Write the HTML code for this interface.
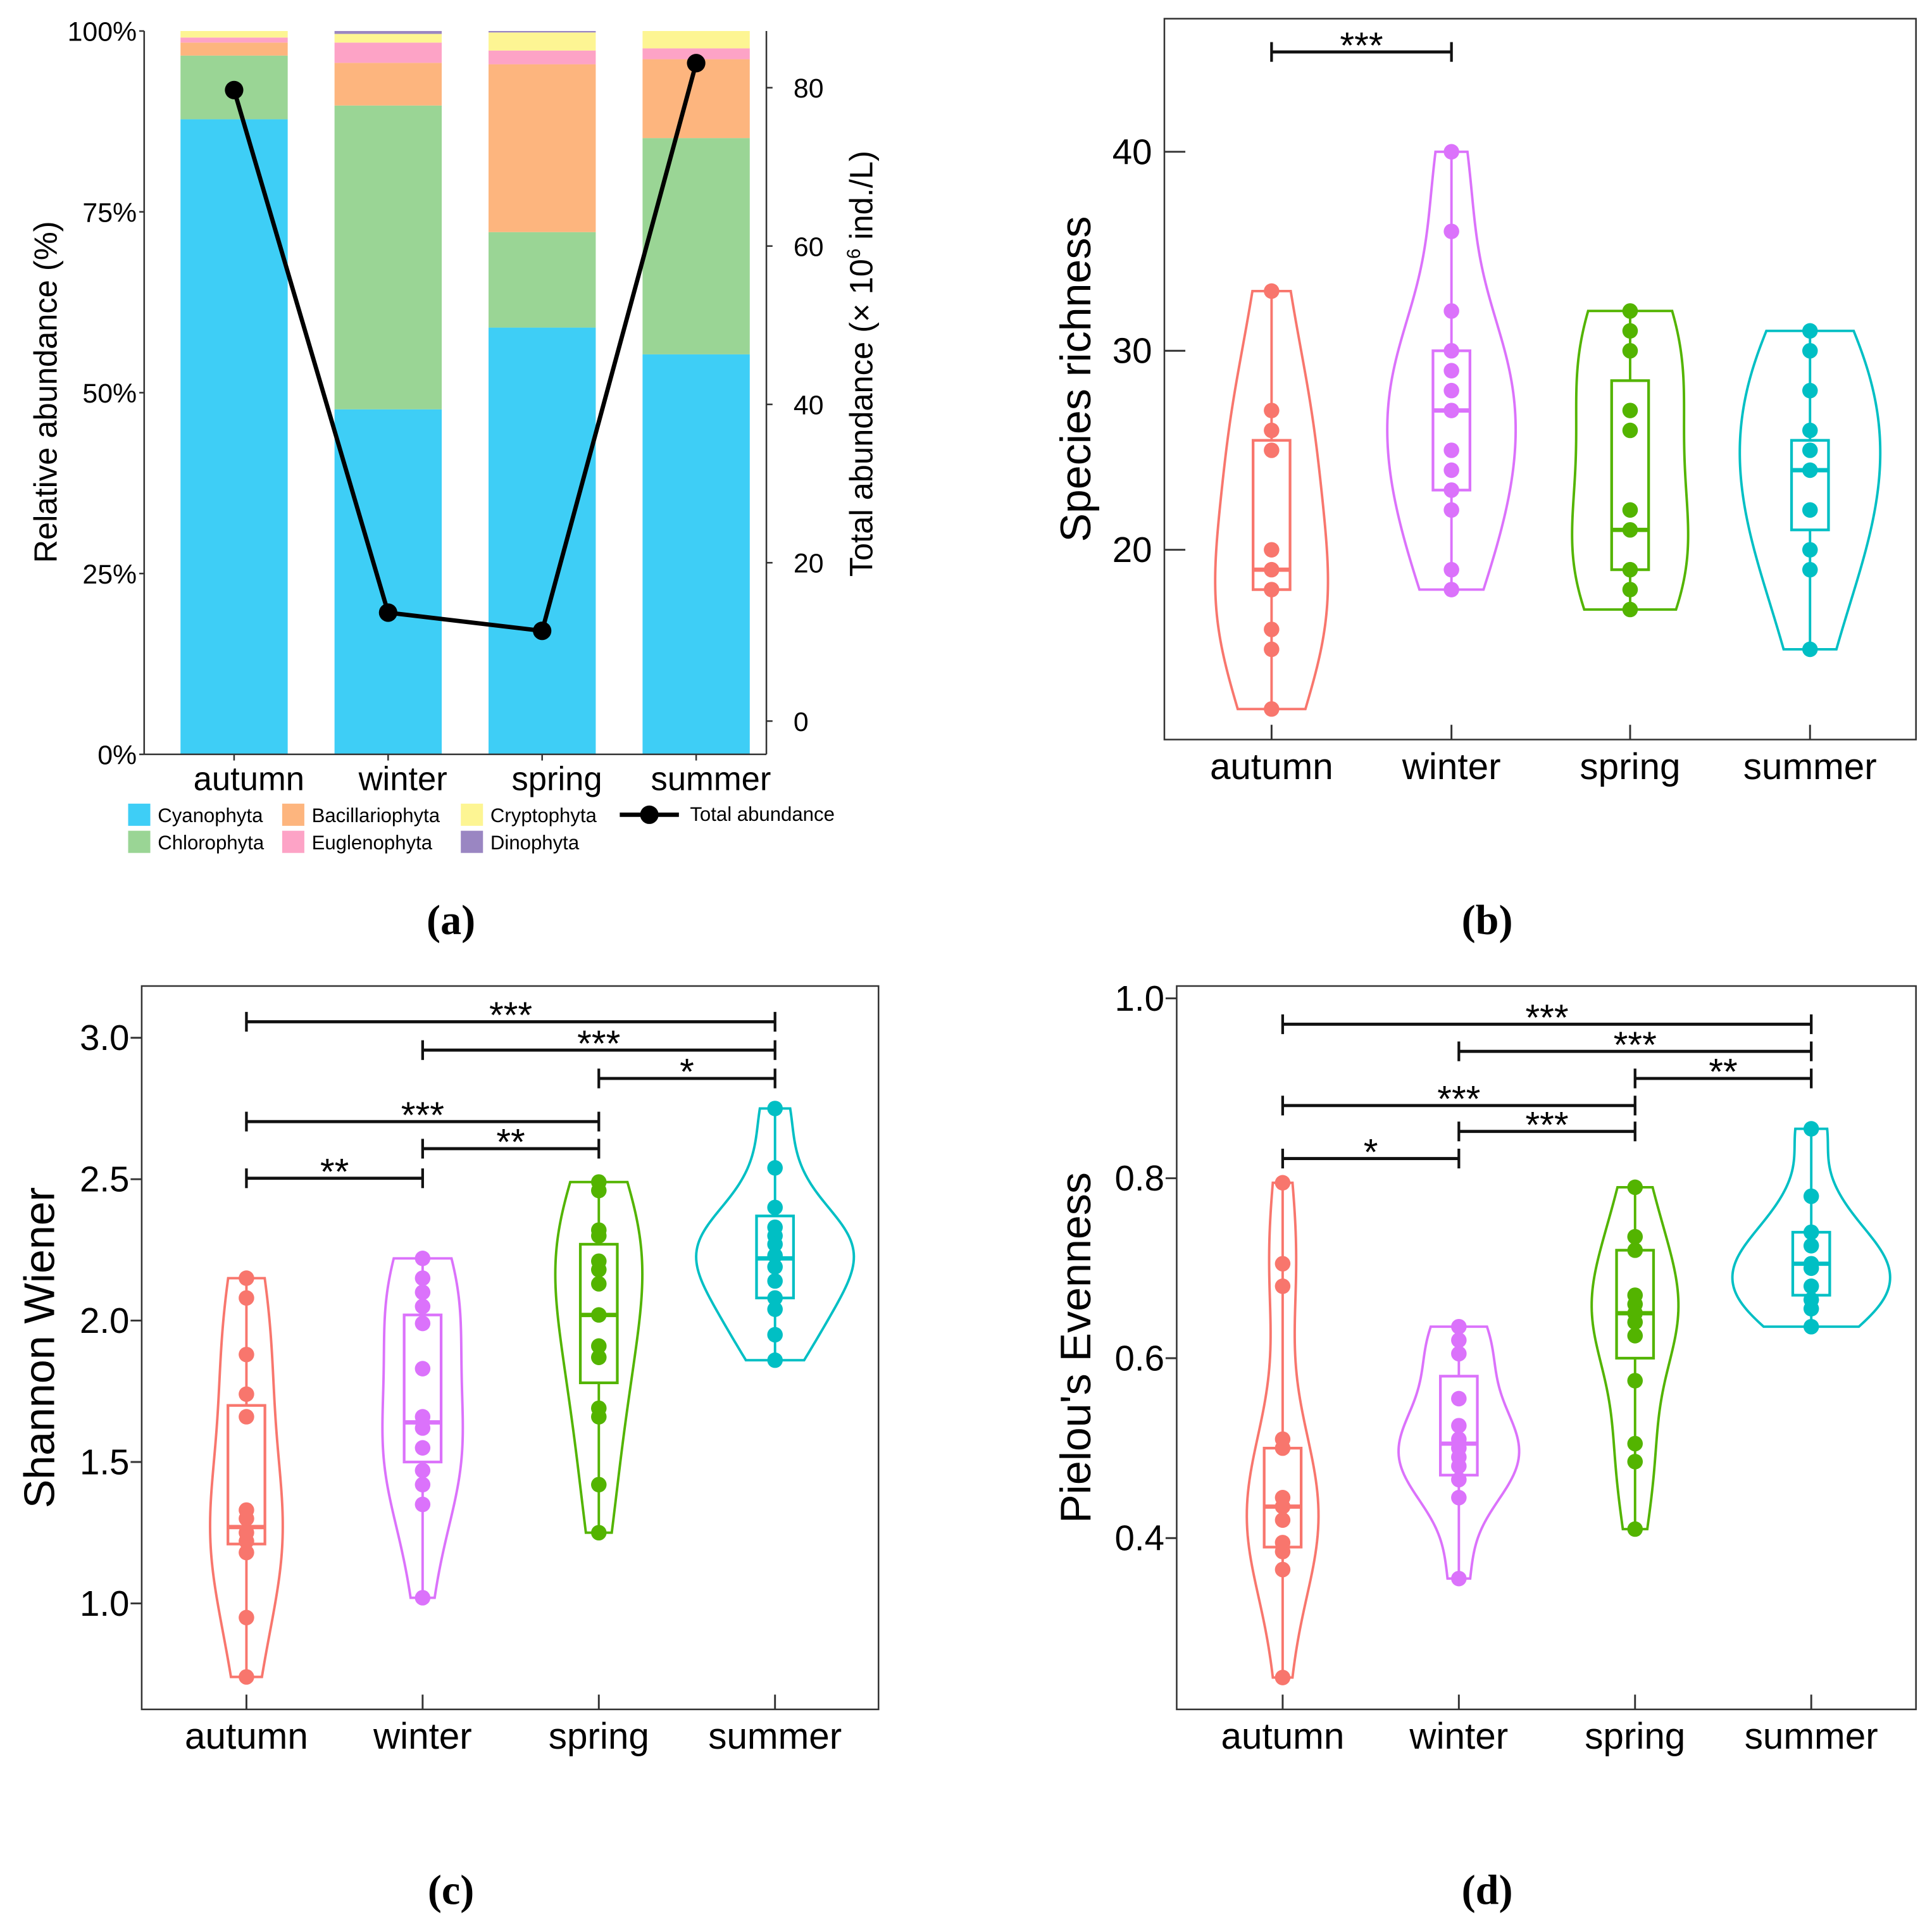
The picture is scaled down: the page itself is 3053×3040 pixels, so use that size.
<!DOCTYPE html>
<html><head><meta charset="utf-8"><style>
html,body{margin:0;padding:0;background:#fff;}
svg{display:block;font-family:"Liberation Sans",Arial,sans-serif;}
</style></head><body>
<svg id="fig" width="3053" height="3040" viewBox="0 0 1568 1561" xmlns="http://www.w3.org/2000/svg">
<rect width="1568" height="1561" fill="#fff"/>
<g id="pa"></g>
<g id="pb"></g>
<g id="pc"></g>
<g id="pd"></g>
</svg>
<script>
const seasons=["autumn","winter","spring","summer"];
const phyla=["Cyanophyta","Chlorophyta","Bacillariophyta","Euglenophyta","Cryptophyta","Dinophyta"];
const phylaColors=["#3ecef6","#9ad595","#fdb57e","#fda3c6","#fdf593","#9a86c2"];
const relCyano=[87.8,47.7,59.0,55.3];
const relChloro=[8.8,42.0,13.2,29.9];
const relBacil=[1.8,5.9,23.2,10.9];
const relEugl=[0.7,2.8,1.9,1.5];
const relCrypt=[0.9,1.2,2.5,2.4];
const relDino=[0.0,0.4,0.2,0.0];
const totalAbundance=[79.7,13.7,11.4,83.1];
const pctTicks=[0,25,50,75,100];
const abundTicks=[0,20,40,60,80];

const richnessPoints=[[33,27,26,25,20,19,18,16,15,12],[40,36,32,30,29,28,27,25,24,23,22,19,18],[32,31,30,27,26,22,21,19,18,17],[31,30,28,26,25,24,22,20,19,15]];
const richnessBoxes=[[18,19,25.5],[23,27,30],[19,21,28.5],[21,24,25.5]];
const richnessTicks=[20,30,40];

const shannonPoints=[[2.15,2.08,1.88,1.74,1.66,1.33,1.30,1.25,1.22,1.18,0.95,0.74],[2.22,2.15,2.10,2.05,1.99,1.83,1.66,1.62,1.55,1.47,1.42,1.35,1.02],[2.49,2.46,2.32,2.30,2.21,2.18,2.13,2.02,1.91,1.87,1.69,1.66,1.42,1.25],[2.75,2.54,2.40,2.33,2.30,2.27,2.23,2.19,2.14,2.08,2.04,1.95,1.86]];
const shannonBoxes=[[1.21,1.27,1.70],[1.50,1.64,2.02],[1.78,2.02,2.27],[2.08,2.22,2.37]];
const shannonTicks=[1.0,1.5,2.0,2.5,3.0];

const evenPoints=[[0.795,0.705,0.68,0.51,0.50,0.445,0.435,0.42,0.395,0.385,0.365,0.245],[0.635,0.62,0.605,0.555,0.525,0.51,0.50,0.49,0.48,0.465,0.445,0.355],[0.79,0.735,0.72,0.67,0.66,0.65,0.64,0.625,0.575,0.505,0.485,0.41],[0.855,0.78,0.74,0.725,0.705,0.70,0.68,0.665,0.655,0.635]];
const evenBoxes=[[0.39,0.435,0.50],[0.47,0.505,0.58],[0.60,0.65,0.72],[0.67,0.705,0.74]];
const evenTicks=[0.4,0.6,0.8,1.0];

const sigB=[[0,1,"***"]];
const sigC=[[0,3,"***"],[1,3,"***"],[2,3,"*"],[0,2,"***"],[1,2,"**"],[0,1,"**"]];
const sigD=[[0,3,"***"],[1,3,"***"],[2,3,"**"],[0,2,"***"],[1,2,"***"],[0,1,"*"]];

const groupColors=["#f8766d","#db72fb","#53b400","#00bfc4"];
const NS="http://www.w3.org/2000/svg";
function mk(parent,tag,attrs,text){const e=document.createElementNS(NS,tag);for(const k in attrs)e.setAttribute(k,attrs[k]);if(text!==undefined)e.textContent=text;parent.appendChild(e);return e;}

/* ---------- Panel A ---------- */
(function(){
const g=document.getElementById('pa');
const x0=117,x1=622,yB=612,yT=25;
const yP=v=>yB-(v/100)*(yB-yT);
const yA=v=>585-v*6.425;
const xC=i=>190+i*125;
const bw=87;
const layers=[relCyano,relChloro,relBacil,relEugl,relCrypt,relDino];
seasons.forEach((s,i)=>{let cum=0;layers.forEach((arr,k)=>{const v=arr[i];if(v<=0){return;}
 const r=mk(g,'rect',{x:xC(i)-bw/2,y:yP(cum+v),width:bw,height:yP(cum)-yP(cum+v),fill:phylaColors[k]});
 
 
 cum+=v;});});
let ax=mk(g,'line',{x1:x0,y1:yT,x2:x0,y2:yB,stroke:'#333','stroke-width':1.3});

ax=mk(g,'line',{x1:x0,y1:yB,x2:x1,y2:yB,stroke:'#333','stroke-width':1.3});

ax=mk(g,'line',{x1:x1,y1:yT,x2:x1,y2:yB,stroke:'#333','stroke-width':1.3});

pctTicks.forEach(t=>{mk(g,'line',{x1:x0-4,y1:yP(t),x2:x0,y2:yP(t),stroke:'#333','stroke-width':1.3});
 const tx=mk(g,'text',{x:x0-6,y:yP(t)+8,'text-anchor':'end','font-size':22},t+'%');
 });
abundTicks.forEach(t=>{mk(g,'line',{x1:x1,y1:yA(t),x2:x1+5,y2:yA(t),stroke:'#333','stroke-width':1.3});
 const tx=mk(g,'text',{x:x1+22,y:yA(t)+8,'font-size':22},String(t));
 });
seasons.forEach((s,i)=>{mk(g,'line',{x1:xC(i),y1:yB,x2:xC(i),y2:yB+5,stroke:'#333','stroke-width':1.3});
 const tx=mk(g,'text',{x:xC(i)+12,y:641,'text-anchor':'middle','font-size':27},s);
 });
let pts=totalAbundance.map((v,i)=>xC(i)+','+yA(v)).join(' ');
const pl=mk(g,'polyline',{points:pts,fill:'none',stroke:'#000','stroke-width':3.5});

totalAbundance.forEach((v,i)=>{const c=mk(g,'circle',{cx:xC(i),cy:yA(v),r:7.5,fill:'#000'});
 });
let t=mk(g,'text',{x:0,y:0,'font-size':26,'text-anchor':'middle',transform:'translate(46,318) rotate(-90)'},'Relative abundance (%)');

t=mk(g,'text',{x:0,y:0,'font-size':26,'text-anchor':'middle',transform:'translate(708,295) rotate(-90)'});

t.appendChild(document.createTextNode('Total abundance (× 10'));
mk(t,'tspan',{'font-size':15,dy:-10},'6');
mk(t,'tspan',{dy:10},' ind./L)');
const lx=[104,229,374],ly=[652,674];
phyla.forEach((p,k)=>{const col=Math.floor(k/2),row=k%2;
 const lg=mk(g,'g',{});
 
 mk(lg,'rect',{x:lx[col],y:ly[row],width:18,height:18,fill:phylaColors[k]});
 mk(lg,'text',{x:lx[col]+24,y:ly[row]+15,'font-size':16},p);});
const ll=mk(g,'g',{});

mk(ll,'line',{x1:503,y1:661,x2:551,y2:661,stroke:'#000','stroke-width':3.5});
mk(ll,'circle',{cx:527,cy:661,r:7.5,fill:'#000'});
mk(ll,'text',{x:560,y:666,'font-size':16},'Total abundance');
})();

/* ---------- Violin panels ---------- */
function kde(pts,y){const n=pts.length;const m=pts.reduce((a,b)=>a+b,0)/n;
 const sd=Math.sqrt(pts.reduce((a,b)=>a+(b-m)*(b-m),0)/(n-1));
 const s=[...pts].sort((a,b)=>a-b);const q=p=>{const h=(n-1)*p,l=Math.floor(h);return s[l]+(h-l)*((s[Math.min(l+1,n-1)])-s[l]);};
 const iqr=q(0.75)-q(0.25);let bw=1.2*0.9*Math.min(sd,iqr/1.34||sd)*Math.pow(n,-0.2);
 let d=0;pts.forEach(p=>{const z=(y-p)/bw;d+=Math.exp(-0.5*z*z);});return d/(n*bw*Math.sqrt(2*Math.PI));}
function violinPanel(id,cfg){
 const g=document.getElementById(id);
 const {L,R,T,B,vToY,centers,points,boxes,ticks,tickFmt,title,titleX,sig,sigY0,maxHalf,tickOut}=cfg;
 const fr=mk(g,'rect',{x:L,y:T,width:R-L,height:B-T,fill:'none',stroke:'#333','stroke-width':1.3});
 
 ticks.forEach(t=>{const y=vToY(t);
  mk(g,'line',{x1:tickOut?L-9:L,y1:y,x2:tickOut?L:L+17,y2:y,stroke:'#333','stroke-width':1.5});
  const tx=mk(g,'text',{x:L-10,y:y+10,'text-anchor':'end','font-size':29},tickFmt(t));
  });
 seasons.forEach((s,i)=>{mk(g,'line',{x1:centers[i],y1:B,x2:centers[i],y2:B-12,stroke:'#333','stroke-width':1.5});
  const tx=mk(g,'text',{x:centers[i],y:B+32,'text-anchor':'middle','font-size':30},s);
  });
 const t=mk(g,'text',{x:0,y:0,'font-size':35,'text-anchor':'middle',transform:`translate(${titleX},${(T+B)/2}) rotate(-90)`},title);
 
 const dens=points.map(p=>{const lo=Math.min(...p),hi=Math.max(...p),arr=[];for(let k=0;k<=80;k++){const v=lo+(hi-lo)*k/80;arr.push([v,kde(p,v)]);}return arr;});
 const gmax=Math.max(...dens.map(a=>Math.max(...a.map(d=>d[1]))));
 seasons.forEach((s,i)=>{const c=groupColors[i],cx=centers[i];
  const gg=mk(g,'g',{});
  
  const left=dens[i].map(d=>(cx-d[1]/gmax*maxHalf)+','+vToY(d[0]));
  const right=dens[i].slice().reverse().map(d=>(cx+d[1]/gmax*maxHalf)+','+vToY(d[0]));
  const vp=mk(gg,'polygon',{points:left.concat(right).join(' '),fill:'none',stroke:c,'stroke-width':2});
  
  const lo=Math.min(...points[i]),hi=Math.max(...points[i]);
  mk(gg,'line',{x1:cx,y1:vToY(lo),x2:cx,y2:vToY(hi),stroke:c,'stroke-width':2});
  const [q1,md,q3]=boxes[i];
  const bx=mk(gg,'rect',{x:cx-15,y:vToY(q3),width:30,height:vToY(q1)-vToY(q3),fill:'#fff',stroke:c,'stroke-width':2.2});
  
  mk(gg,'line',{x1:cx-15,y1:vToY(md),x2:cx+15,y2:vToY(md),stroke:c,'stroke-width':3.5});
  points[i].forEach(v=>{const p=mk(gg,'circle',{cx:cx,cy:vToY(v),r:6.3,fill:c});
   });
 });
 sig.forEach((sg,k)=>{const y=sigY0[k];const a=centers[sg[0]],b=centers[sg[1]];
  const sgG=mk(g,'g',{});
  
  mk(sgG,'line',{x1:a,y1:y,x2:b,y2:y,stroke:'#111','stroke-width':2.5});
  mk(sgG,'line',{x1:a,y1:y-8,x2:a,y2:y+8,stroke:'#111','stroke-width':2.2});
  mk(sgG,'line',{x1:b,y1:y-8,x2:b,y2:y+8,stroke:'#111','stroke-width':2.2});
  mk(sgG,'text',{x:(a+b)/2,y:y+5,'text-anchor':'middle','font-size':30},sg[2]);});
}
violinPanel('pb',{L:945,R:1555,T:15,B:600,vToY:v=>446-(v-20)*16.15,centers:[1032,1178,1323,1469],
 points:richnessPoints,boxes:richnessBoxes,ticks:richnessTicks,tickFmt:t=>String(t),title:'Species richness',titleX:885,
 sig:sigB,sigY0:[42],maxHalf:57,tickOut:false});
violinPanel('pc',{L:115,R:713,T:800,B:1387,vToY:v=>1301-(v-1)*229.5,centers:[200,343,486,629],
 points:shannonPoints,boxes:shannonBoxes,ticks:shannonTicks,tickFmt:t=>t.toFixed(1),title:'Shannon Wiener',titleX:44,
 sig:sigC,sigY0:[829,852,875,910,932,956],maxHalf:64,tickOut:true});
violinPanel('pd',{L:955,R:1555,T:800,B:1387,vToY:v=>1248-(v-0.4)*730,centers:[1041,1184,1327,1470],
 points:evenPoints,boxes:evenBoxes,ticks:evenTicks,tickFmt:t=>t.toFixed(1),title:"Pielou's Evenness",titleX:885,
 sig:sigD,sigY0:[831,853,875,897,918,940],maxHalf:64,tickOut:true});

const fig=document.getElementById('fig');
[["(a)",366,758],["(b)",1207,758],["(c)",366,1545],["(d)",1207,1545]].forEach(l=>{
 const t=mk(fig,'text',{x:l[1],y:l[2],'text-anchor':'middle','font-size':34,'font-weight':'bold','font-family':'"Liberation Serif",serif'},l[0]);
 
 });
</script>
</body></html>
